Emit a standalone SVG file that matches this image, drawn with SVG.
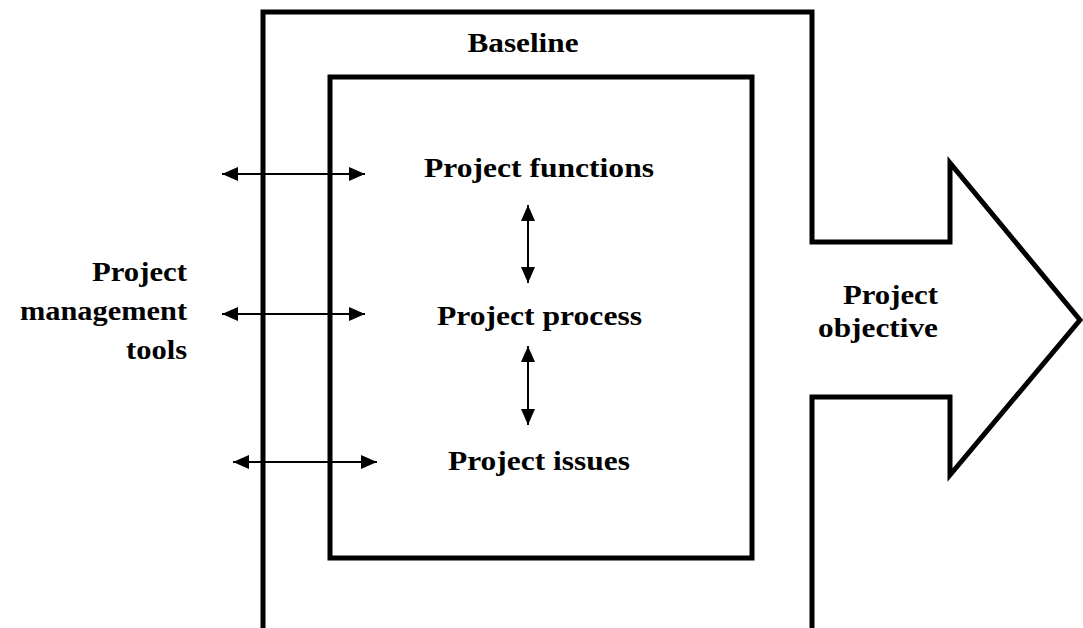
<svg xmlns="http://www.w3.org/2000/svg" width="1083" height="628" viewBox="0 0 1083 628">
<style>
.frame{fill:none;stroke:#000;stroke-width:5;stroke-linejoin:miter}
.lbl{font-family:"Liberation Serif","Times New Roman",serif;font-weight:bold;font-size:27px;fill:#000}
.conn{stroke:#000;stroke-width:2;fill:none}
</style>
<defs>
<marker id="head" viewBox="0 0 16 14" refX="16" refY="7" markerWidth="16" markerHeight="14" markerUnits="userSpaceOnUse" orient="auto-start-reverse">
<path d="M0,0 L16,7 L0,14 z" fill="#000"/>
</marker>
</defs>
<rect width="1083" height="628" fill="#fff"/>
<g id="baseline">
<path class="frame" d="M263,628 L263,12 L812,12 L812,242 L950,242 L950,163 L1080,320 L950,475 L950,397 L812,397 L812,628"/>
<text class="lbl" x="523" y="52" text-anchor="middle" textLength="111" lengthAdjust="spacingAndGlyphs">Baseline</text>
</g>
<g id="inner">
<rect class="frame" x="330" y="77" width="422" height="481"/>
</g>
<g id="functions">
<text class="lbl" x="539" y="177" text-anchor="middle" textLength="230" lengthAdjust="spacingAndGlyphs">Project functions</text>
</g>
<g id="process">
<text class="lbl" x="539.5" y="325" text-anchor="middle" textLength="205" lengthAdjust="spacingAndGlyphs">Project process</text>
</g>
<g id="issues">
<text class="lbl" x="539" y="470" text-anchor="middle" textLength="182" lengthAdjust="spacingAndGlyphs">Project issues</text>
</g>
<g id="tools">
<text class="lbl" x="187" y="281" text-anchor="end" textLength="95" lengthAdjust="spacingAndGlyphs">Project</text>
<text class="lbl" x="187" y="320" text-anchor="end" textLength="167" lengthAdjust="spacingAndGlyphs">management</text>
<text class="lbl" x="187" y="359" text-anchor="end" textLength="61" lengthAdjust="spacingAndGlyphs">tools</text>
</g>
<g id="objective">
<text class="lbl" x="938" y="304" text-anchor="end" textLength="95" lengthAdjust="spacingAndGlyphs">Project</text>
<text class="lbl" x="938" y="337" text-anchor="end" textLength="120" lengthAdjust="spacingAndGlyphs">objective</text>
</g>
<g id="connectors">
<line class="conn" x1="222" y1="174" x2="365" y2="174" marker-start="url(#head)" marker-end="url(#head)"/>
<line class="conn" x1="222" y1="314" x2="365" y2="314" marker-start="url(#head)" marker-end="url(#head)"/>
<line class="conn" x1="233" y1="462" x2="377" y2="462" marker-start="url(#head)" marker-end="url(#head)"/>
<line class="conn" x1="528" y1="205" x2="528" y2="283" marker-start="url(#head)" marker-end="url(#head)"/>
<line class="conn" x1="528" y1="346" x2="528" y2="425" marker-start="url(#head)" marker-end="url(#head)"/>
</g>
</svg>
